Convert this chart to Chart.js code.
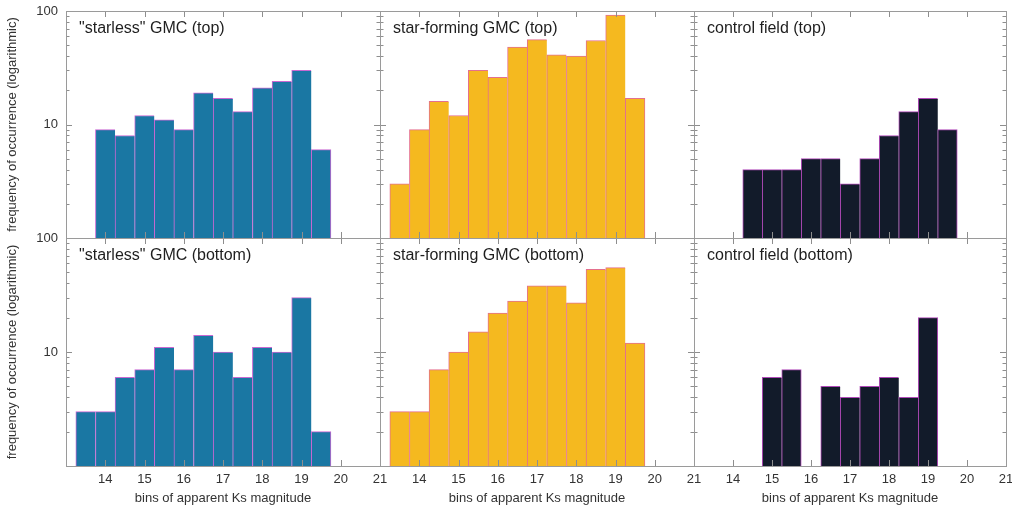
<!DOCTYPE html>
<html>
<head>
<meta charset="utf-8">
<script src="https://cdn.jsdelivr.net/npm/chart.js@4.4.1/dist/chart.umd.min.js"></script>
<style>
  html, body { margin: 0; padding: 0; background: #ffffff; }
  #wrap { position: relative; width: 1012px; height: 507px; overflow: hidden; }
  #wrap canvas { position: absolute; left: 0; top: 0; }
</style>
</head>
<body>
<div id="wrap">
  <canvas id="c00" width="1012" height="507"></canvas>
  <canvas id="c01" width="1012" height="507"></canvas>
  <canvas id="c02" width="1012" height="507"></canvas>
  <canvas id="c10" width="1012" height="507"></canvas>
  <canvas id="c11" width="1012" height="507"></canvas>
  <canvas id="c12" width="1012" height="507"></canvas>
</div>
<script>
// ---------------- data ----------------
const panelTitles = [
  ['"starless" GMC (top)', 'star-forming GMC (top)', 'control field (top)'],
  ['"starless" GMC (bottom)', 'star-forming GMC (bottom)', 'control field (bottom)']
];

// bin centres (Ks magnitude, bins 0.5 mag wide)
const starlessTopBins   = [14.0, 14.5, 15.0, 15.5, 16.0, 16.5, 17.0, 17.5, 18.0, 18.5, 19.0, 19.5];
const starlessTopCounts = [9, 8, 12, 11, 9, 19, 17, 13, 21, 24, 30, 6];

const starFormTopBins   = [13.5, 14.0, 14.5, 15.0, 15.5, 16.0, 16.5, 17.0, 17.5, 18.0, 18.5, 19.0, 19.5];
const starFormTopCounts = [3, 9, 16, 12, 30, 26, 48, 56, 41, 40, 55, 92, 17];

const controlTopBins    = [14.5, 15.0, 15.5, 16.0, 16.5, 17.0, 17.5, 18.0, 18.5, 19.0, 19.5];
const controlTopCounts  = [4, 4, 4, 5, 5, 3, 5, 8, 13, 17, 9];

const starlessBotBins   = [13.5, 14.0, 14.5, 15.0, 15.5, 16.0, 16.5, 17.0, 17.5, 18.0, 18.5, 19.0, 19.5];
const starlessBotCounts = [3, 3, 6, 7, 11, 7, 14, 10, 6, 11, 10, 30, 2];

const starFormBotBins   = [13.5, 14.0, 14.5, 15.0, 15.5, 16.0, 16.5, 17.0, 17.5, 18.0, 18.5, 19.0, 19.5];
const starFormBotCounts = [3, 3, 7, 10, 15, 22, 28, 38, 38, 27, 53, 55, 12];

const controlBotBins    = [15.0, 15.5, 16.5, 17.0, 17.5, 18.0, 18.5, 19.0];
const controlBotCounts  = [6, 7, 5, 4, 5, 6, 4, 20];

const xTickValues   = [13, 14, 15, 16, 17, 18, 19, 20, 21];
const xTickLabels   = ['', '14', '15', '16', '17', '18', '19', '20', '21'];
const yTickValues   = [1, 2, 3, 4, 5, 6, 7, 8, 9, 10, 20, 30, 40, 50, 60, 70, 80, 90, 100];
const yLabelledTicks = [10, 100];

const xTitle = 'bins of apparent Ks magnitude';
const yTitle = 'frequency of occurrence (logarithmic)';

// ---------------- styling / layout ----------------
const FONT = "'Liberation Sans', Arial, Helvetica, sans-serif";
Chart.defaults.font.family = FONT;
const colStyles = [
  { fill: '#1a77a3', edge: '#c868d2' },
  { fill: '#f5b91f', edge: '#e4708e' },
  { fill: '#121b2a', edge: '#b04ab8' }
];
const LEFTS = [66, 380, 694], RIGHTS = [380, 694, 1006];
const TOPS = [11, 238], BOTTOMS = [238, 466];
const W = 1012, H = 507;

const framePlugin = {
  id: 'frameTicks',
  afterDatasetsDraw(chart, args, opts) {
    const { ctx, chartArea: a } = chart;
    const xs = chart.scales.x, ys = chart.scales.y;
    ctx.save();
    ctx.strokeStyle = '#8e8e8e';
    ctx.lineWidth = 1;
    ctx.beginPath();
    // inward ticks on x (top and bottom)
    xTickValues.forEach(v => {
      const px = Math.round(xs.getPixelForValue(v)) + 0.5;
      ctx.moveTo(px, a.bottom); ctx.lineTo(px, a.bottom - 6);
      ctx.moveTo(px, a.top); ctx.lineTo(px, a.top + 6);
    });
    // inward ticks on y (left and right)
    yTickValues.forEach(v => {
      const py = Math.round(ys.getPixelForValue(v)) + 0.5;
      const major = Math.abs(Math.log10(v) - Math.round(Math.log10(v))) < 1e-9;
      const len = major ? 6 : 3.5;
      ctx.moveTo(a.left, py); ctx.lineTo(a.left + len, py);
      ctx.moveTo(a.right, py); ctx.lineTo(a.right - len, py);
    });
    ctx.stroke();
    // frame
    ctx.strokeStyle = '#9a9a9a';
    ctx.strokeRect(Math.round(a.left) + 0.5, Math.round(a.top) + 0.5,
                   Math.round(a.right - a.left), Math.round(a.bottom - a.top));
    // panel title
    ctx.fillStyle = '#1e1e1e';
    ctx.font = '16px ' + FONT;
    ctx.textBaseline = 'alphabetic';
    ctx.textAlign = 'left';
    ctx.fillText(opts.text, a.left + 13, a.top + 22);
    ctx.restore();
  }
};

function makePanel(row, col, bins, counts) {
  const L = LEFTS[col], R = RIGHTS[col], T = TOPS[row], B = BOTTOMS[row];
  const showY = col === 0, showX = row === 1;
  const st = colStyles[col];
  const points = bins.map((b, i) => ({ x: b, y: counts[i] }));
  const xScale = {
    type: 'linear', min: 13, max: 21, display: showX, offset: false,
    grid: { display: false, drawTicks: false, offset: false },
    border: { display: false },
    afterBuildTicks: s => { s.ticks = xTickValues.map(v => ({ value: v })); },
    afterFit: s => {
      if (showX) s.height = H - B;
      s.paddingLeft = 0; s.paddingRight = 0;
    },
    ticks: {
      autoSkip: false, maxRotation: 0, minRotation: 0, padding: 6,
      color: '#333333', font: { size: 13 },
      callback: v => { const i = xTickValues.indexOf(v); return i >= 0 ? xTickLabels[i] : ''; }
    },
    title: { display: true, text: xTitle, color: '#333333', font: { size: 13 }, padding: { top: 0, bottom: 1 } }
  };
  const yScale = {
    type: 'logarithmic', min: 1, max: 100, display: showY, offset: false,
    grid: { display: false, drawTicks: false },
    border: { display: false },
    afterBuildTicks: s => { s.ticks = yTickValues.map(v => ({ value: v })); },
    afterFit: s => {
      if (showY) s.width = L;
      s.paddingTop = 0; s.paddingBottom = 0;
    },
    ticks: {
      autoSkip: false, padding: 8, color: '#333333', font: { size: 13 },
      callback: v => yLabelledTicks.includes(v) ? String(v) : ''
    },
    title: { display: true, text: yTitle, color: '#333333', font: { size: 13 }, padding: { top: 5, bottom: 0 } }
  };

  const isLastInRun = i => !bins.some(b => Math.abs(b - (bins[i] + 0.5)) < 1e-6);

  return new Chart(document.getElementById('c' + row + col), {
    type: 'bar',
    data: {
      datasets: [{
        data: points,
        backgroundColor: st.fill,
        borderColor: st.edge,
        borderWidth: ctx => ({ top: 1, left: 1, bottom: 0, right: isLastInRun(ctx.dataIndex) ? 1 : 0 }),
        borderSkipped: false,
        categoryPercentage: 1.0,
        barPercentage: 1.0
      }]
    },
    options: {
      responsive: false, animation: false, events: [],
      layout: { padding: { left: showY ? 0 : L, right: W - R, top: T, bottom: showX ? 0 : H - B } },
      plugins: {
        legend: { display: false }, tooltip: { enabled: false },
        frameTicks: { text: panelTitles[row][col] }
      },
      scales: { x: xScale, y: yScale }
    },
    plugins: [framePlugin]
  });
}

makePanel(0, 0, starlessTopBins, starlessTopCounts);
makePanel(0, 1, starFormTopBins, starFormTopCounts);
makePanel(0, 2, controlTopBins, controlTopCounts);
makePanel(1, 0, starlessBotBins, starlessBotCounts);
makePanel(1, 1, starFormBotBins, starFormBotCounts);
makePanel(1, 2, controlBotBins, controlBotCounts);
</script>
</body>
</html>
